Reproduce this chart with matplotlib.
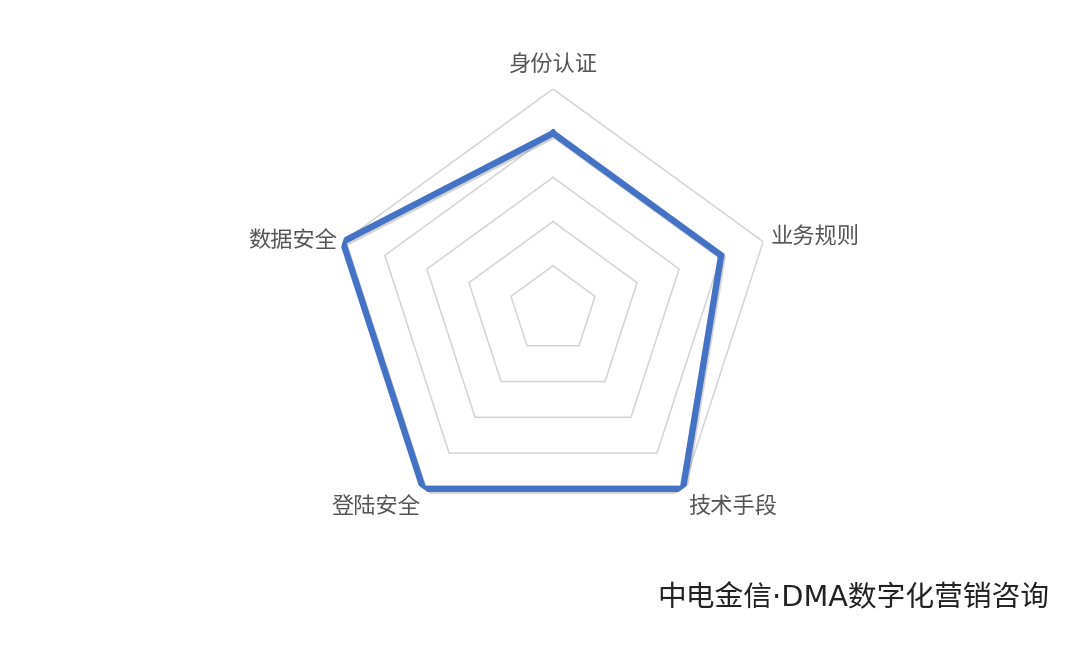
import numpy as np
import matplotlib.pyplot as plt
import matplotlib.patheffects as pe

plt.rcParams['font.family'] = ['Noto Sans CJK SC', 'DejaVu Sans']

# 数据
categories = ['身份认证', '业务规则', '技术手段', '登陆安全', '数据安全']
values = [4, 4, 5, 5, 5]
levels = [1, 2, 3, 4, 5]

n = len(categories)
angles = np.linspace(0, 2 * np.pi, n, endpoint=False)
angles_closed = np.append(angles, angles[0])

fig = plt.figure(figsize=(10.8, 6.67), dpi=100)
ax = fig.add_axes([0.3074, 0.2039, 0.4093, 0.6627], projection='polar')
ax.set_theta_offset(np.pi / 2)
ax.set_theta_direction(-1)
ax.set_ylim(0, 5)
ax.grid(False)
ax.spines['polar'].set_visible(False)
ax.set_xticks([])
ax.set_yticks([])
ax.patch.set_alpha(0)

# 五边形网格
for lv in levels:
    ax.plot(angles_closed, [lv] * (n + 1), color='#d4d4d4', lw=1.1, zorder=1)

# 数据线
vals_closed = values + values[:1]
ax.plot(angles_closed, vals_closed, color='#4472c4', lw=4.6, zorder=3,
        solid_joinstyle='miter',
        path_effects=[pe.SimpleLineShadow(offset=(1, -1.5), shadow_color='gray', alpha=0.35),
                      pe.Normal()])

# 标签
offsets = [((0, 17), 'center'), ((5, 3), 'left'), ((4, -13), 'left'),
           ((-2, -13), 'right'), ((-4, 1), 'right')]
for ang, lab, (off, ha) in zip(angles, categories, offsets):
    ax.annotate(lab, xy=(ang, 5), xytext=off, textcoords='offset points',
                ha=ha, va='center', fontsize=16, color='#555555', annotation_clip=False)

fig.text(657 / 1080, 1 - 598 / 667, '中电金信·DMA数字化营销咨询', fontsize=20.7,
         family=['DejaVu Sans', 'Noto Sans CJK SC'],
         color='#222222', ha='left', va='center')

fig.savefig('out.png', dpi=100, facecolor='white')
